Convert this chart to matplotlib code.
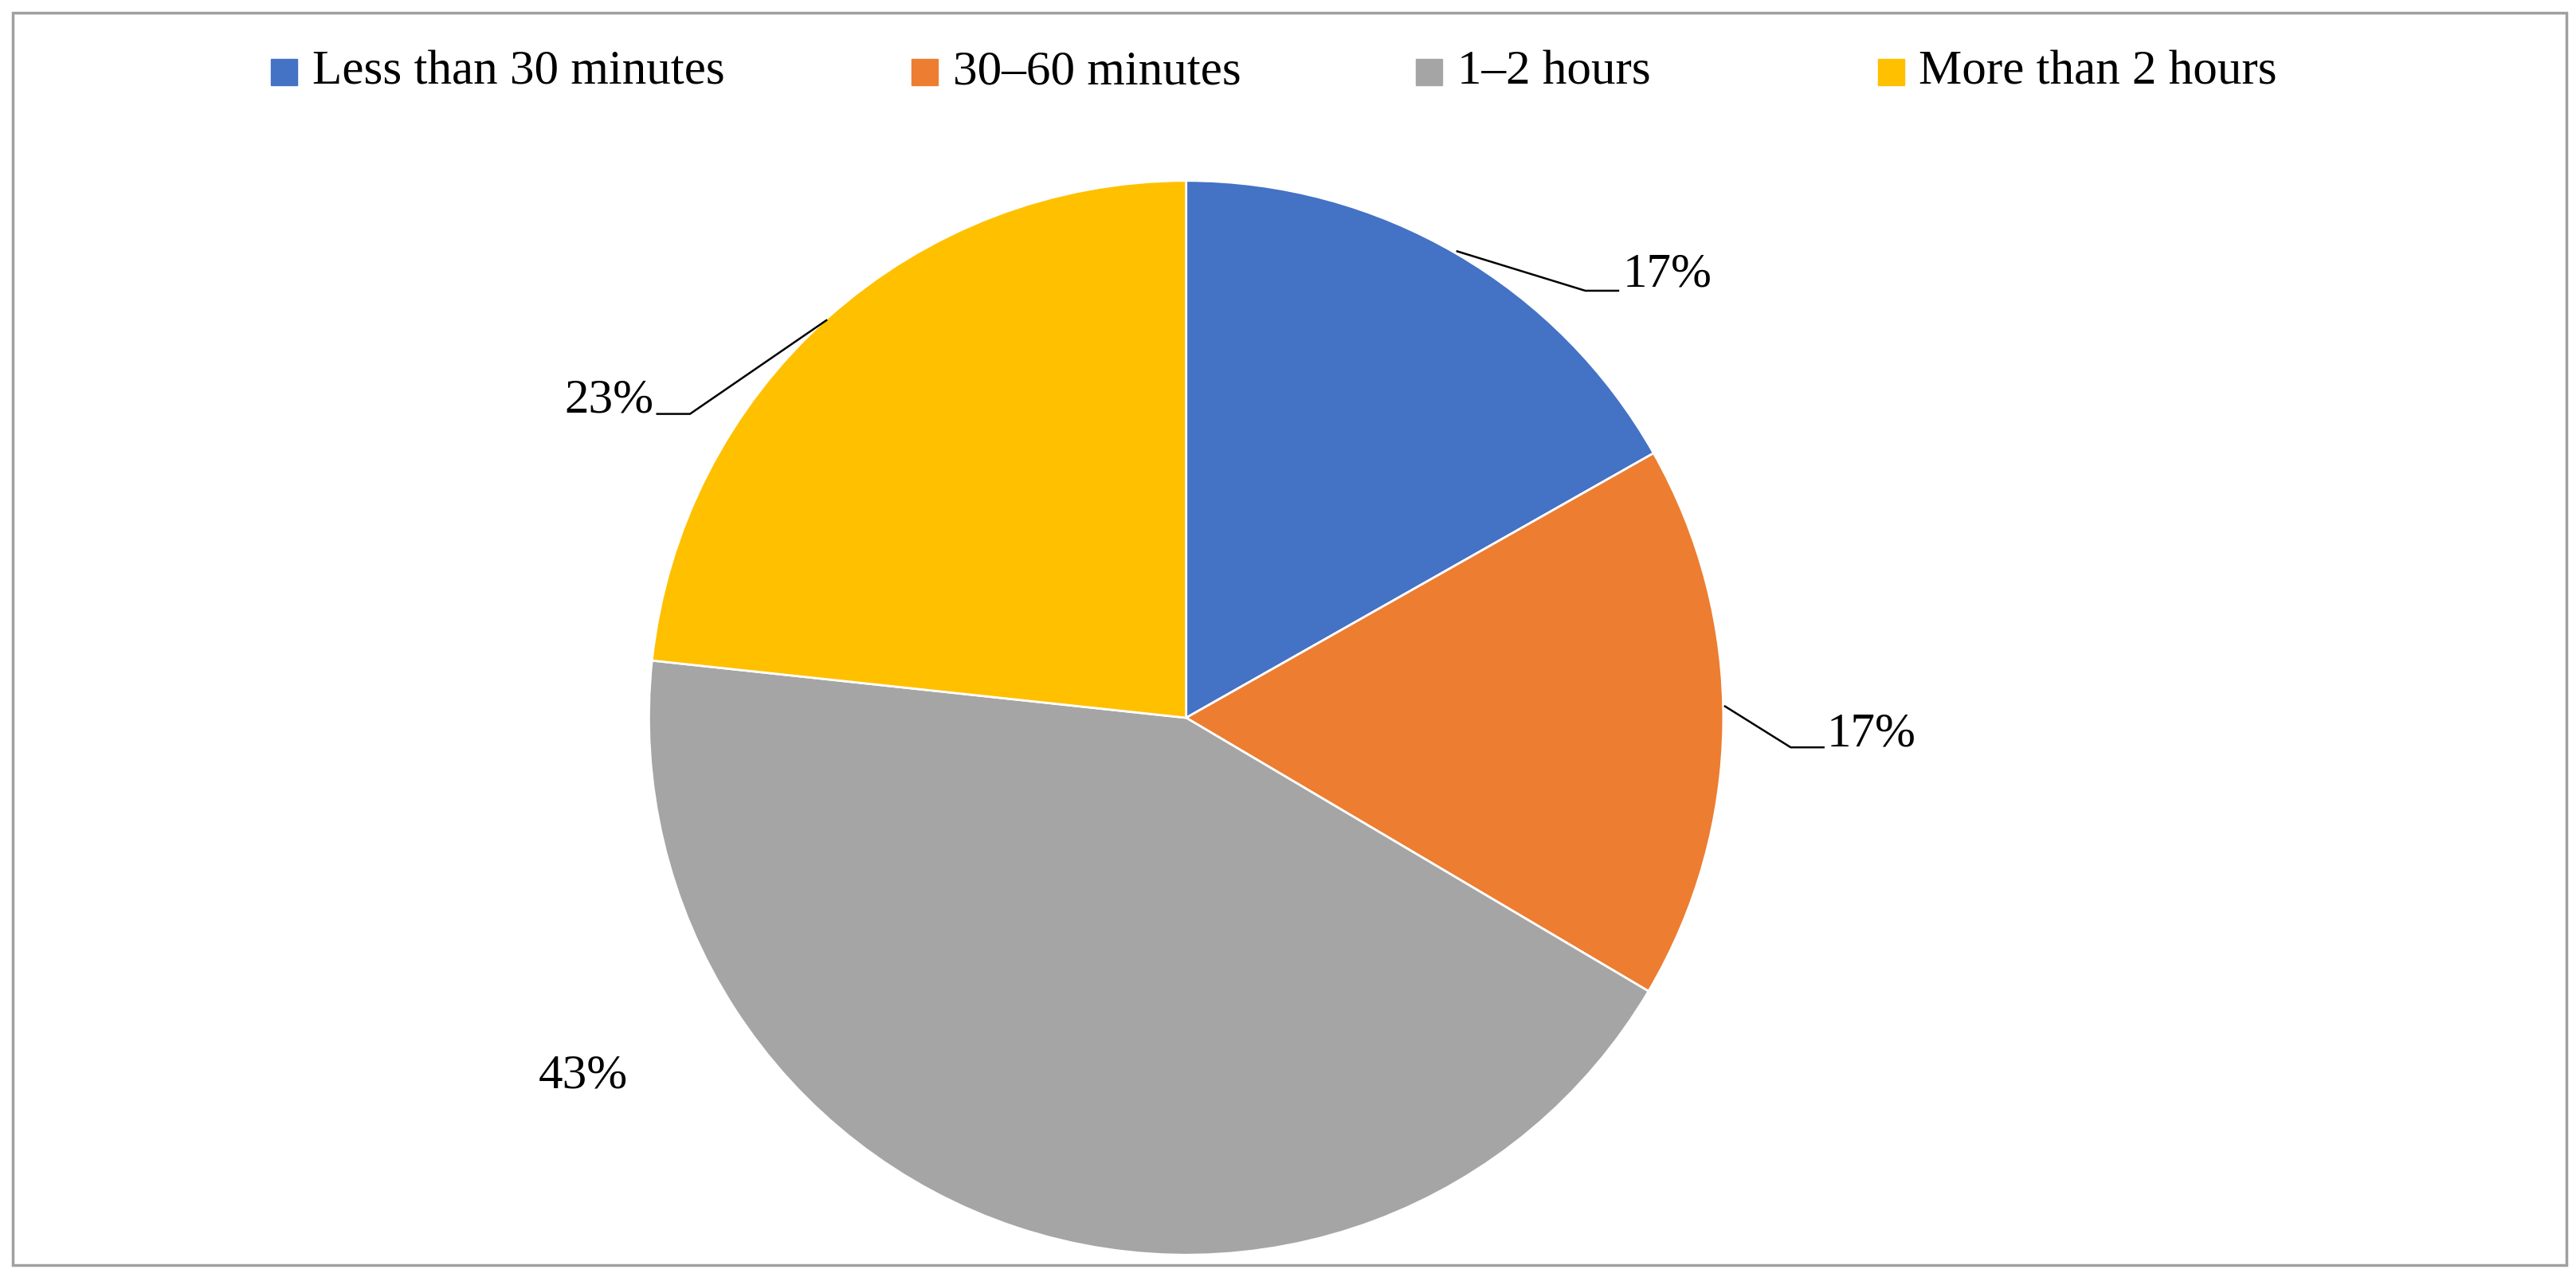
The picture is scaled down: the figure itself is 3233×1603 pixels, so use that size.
import matplotlib
matplotlib.use("Agg")
import matplotlib.pyplot as plt
from matplotlib.patches import Rectangle

labels = ["Less than 30 minutes", "30–60 minutes", "1–2 hours", "More than 2 hours"]
values = [16.8, 16.7, 43.2, 23.3]
pct_text = ["17%", "17%", "43%", "23%"]
colors = ["#4472C4", "#ED7D31", "#A5A5A5", "#FFC000"]

W, H = 1568, 1603 * 1568 / 3233
fig = plt.figure(figsize=(32.33, 16.03), dpi=100)
ax = fig.add_axes([0, 0, 1, 1])
ax.set_xlim(0, W); ax.set_ylim(H, 0); ax.axis("off")
fam = ["Liberation Serif", "DejaVu Serif"]
fs = 44

ax.add_patch(Rectangle((8, 8), 1554, 762, fill=False, ec="#A0A0A0", lw=2.5))

cx, cy, r = 722, 437, 327
wedges, _ = ax.pie(values, colors=colors, startangle=90, counterclock=False,
                   center=(cx, cy), radius=r, frame=True,
                   wedgeprops=dict(ec="white", lw=2))
# pie draws in y-up; axes y inverted -> mirror: fix by recomputing with flipped orientation
for w in wedges:
    w.remove()
ax.pie(values, colors=colors, startangle=-90, counterclock=True,
       center=(cx, cy), radius=r, frame=True, wedgeprops=dict(ec="white", lw=2))
ax.set_xlim(0, W); ax.set_ylim(H, 0); ax.axis("off")

# leader lines and labels
leaders = [((887, 153), (965, 177), (985, 177)),
           ((1050, 430), (1090, 455), (1110, 455)),
           None,
           ((503, 195), (420, 252), (400, 252))]
pos = [(988, 167, "left"), (1112, 447, "left"), (355, 655, "center"), (398, 244, "right")]
for ld, (x, y, ha), t in zip(leaders, pos, pct_text):
    if ld:
        ax.plot([p[0] for p in ld], [p[1] for p in ld], color="black", lw=1.8)
    ax.text(x, y, t, ha=ha, va="center", fontsize=fs, family=fam)

# legend
lx = [165, 555, 862, 1143]
for x, lab, c in zip(lx, labels, colors):
    ax.add_patch(Rectangle((x, 36), 16, 16, color=c))
    ax.text(x + 25, 44, lab, ha="left", va="center", fontsize=fs, family=fam)

fig.savefig("out.png", dpi=100)
